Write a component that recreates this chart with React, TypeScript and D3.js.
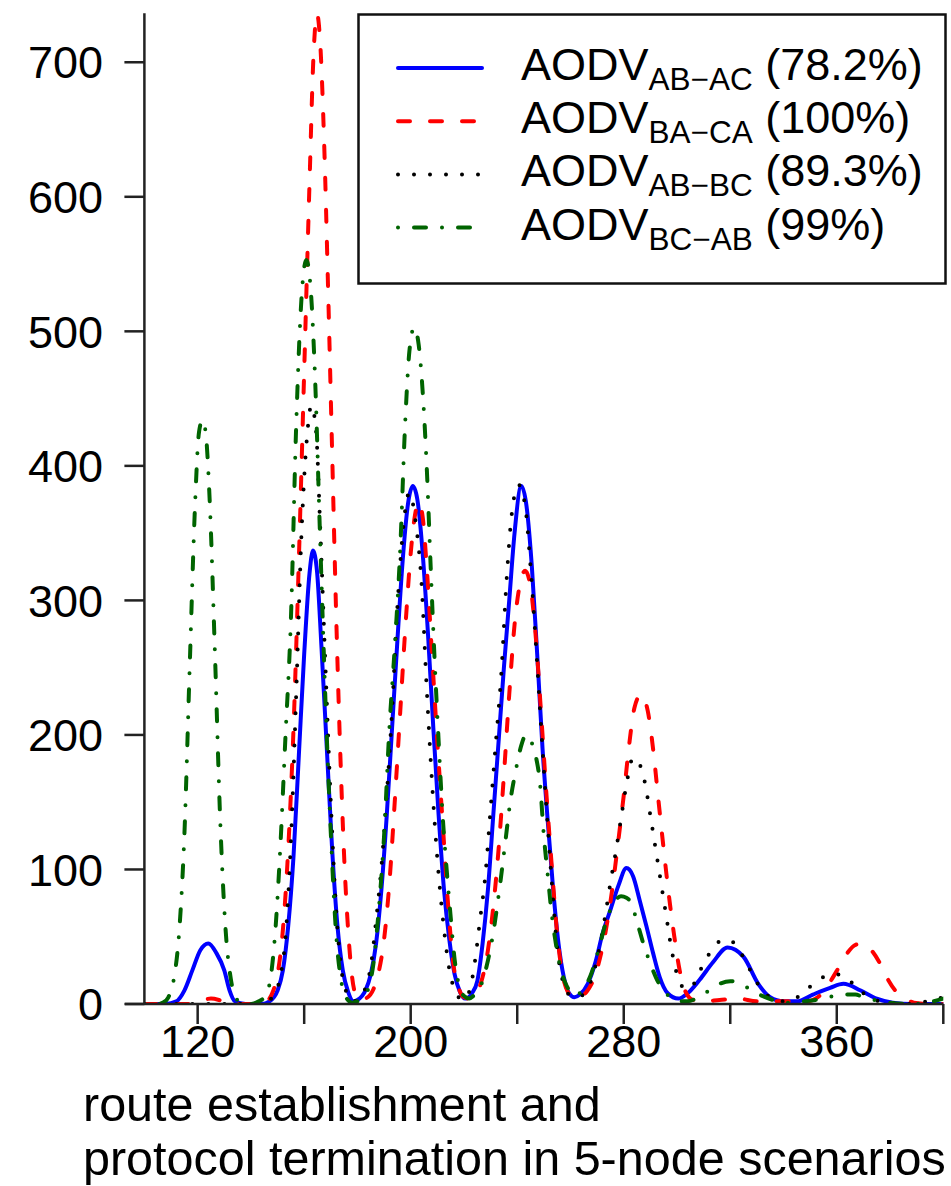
import * as d3 from "d3";

// values: [x, count]
const blueAbAc: [number, number][] = [
  [100, 0], [108, 0], [112, 2], [115, 10], [118, 25], [121, 40], [124, 45], [127, 38], [130, 25], [132, 10], [134, 2], [138, 0],
  [144, 0], [147, 2], [150, 10], [152, 25], [154, 58], [156, 110], [158, 185], [160, 260], [162, 320], [163.3, 337], [164.8, 322],
  [166.5, 265], [168.5, 190], [170.5, 115], [172.5, 58], [174.5, 25], [176.5, 9], [178.5, 2],
  [180, 3], [183, 10], [185, 22], [187, 45], [189, 85], [191, 140], [193, 205], [195, 270], [197, 330], [199, 372], [200.8, 385],
  [202.5, 375], [204.5, 335], [206.5, 275], [208.5, 205], [210.5, 140], [212.5, 85], [214.5, 48], [216.5, 22], [218.5, 9], [220.5, 4],
  [223, 8], [225, 17], [227, 45], [229, 85], [231, 140], [233, 195], [235, 250], [237, 300], [239, 350], [241.5, 385], [243.5, 370],
  [245.5, 325], [247.5, 260], [249.5, 190], [251.5, 135], [253.5, 85], [255.5, 45], [257.5, 20], [259.5, 8], [261.5, 5],
  [263.5, 7], [266.5, 15], [269.5, 32], [272, 52], [275, 70], [278, 88], [281, 101], [283.5, 95], [286, 77], [288.5, 58], [291, 38],
  [293.5, 20], [296.5, 8], [300.5, 4], [304, 8], [308.5, 18], [313.5, 31], [319, 42], [325, 35], [330.5, 15], [335, 5], [340, 2],
  [345, 2], [351, 7], [357.5, 12], [362.5, 15], [369, 10], [375, 4], [381, 1], [388, 0], [400, 0],
];

const redBaCa: [number, number][] = [
  [100, 0], [116, 0], [119, 1], [122, 3], [125, 4], [128, 3], [131, 1], [134, 0], [143, 0],
  [146, 2], [148, 8], [150, 22], [152, 55], [154, 115], [156, 205], [158, 330], [160, 470], [162, 610], [163.5, 705], [164.8, 736],
  [166, 715], [167.5, 640], [169, 530], [170.5, 410], [172, 290], [173.5, 190], [175, 110], [176.5, 55], [178, 20], [179.5, 6],
  [181, 3], [183, 4], [186, 11], [188, 24], [190, 48], [192, 90], [194, 150], [196, 215], [198, 280], [200, 335], [201.5, 362],
  [203, 373], [204.5, 362], [206, 325], [208, 260], [210, 195], [212, 135], [214, 75], [216, 30], [218, 12], [220, 5],
  [222, 4], [225, 9], [227, 20], [229, 40], [231, 72], [233, 115], [235, 170], [237, 230], [239, 282], [241, 312], [243, 322],
  [245, 310], [247, 272], [249, 215], [251, 155], [253, 102], [255, 52], [257, 22], [259, 9], [261, 5],
  [263, 5], [266, 9], [269, 20], [272, 42], [274, 63], [276, 90], [278, 122], [280, 155], [282, 192], [284, 220], [286.5, 230],
  [289, 218], [291, 190], [293, 152], [295, 115], [297, 80], [299, 50], [301, 25], [303, 10], [306, 3], [310, 2],
  [316, 3], [323, 4], [330, 2], [340, 2], [349, 2], [352, 4], [355, 9], [358, 18], [361, 28], [364, 38], [367, 44], [370, 45],
  [373, 40], [376, 31], [379, 19], [382, 10], [385, 5], [389, 1], [395, 0], [400, 0],
];

const blackAbBc: [number, number][] = [
  [100, 0], [140, 0], [145, 1], [147, 3], [149, 8], [151, 20], [153, 50], [155, 120], [157, 230], [159, 350], [161, 420],
  [162.7, 445], [164.5, 425], [166, 355], [168, 250], [170, 150], [172, 70], [174, 25], [176, 8], [178, 2],
  [181, 4], [183, 12], [185, 28], [187, 62], [189, 102], [191, 155], [193, 218], [195, 295], [197, 350], [199.5, 380],
  [202, 356], [204, 315], [206, 235], [208, 165], [210, 108], [212, 65], [214, 32], [216, 13], [218, 5], [220, 3],
  [222.5, 13], [224, 30], [226, 62], [228, 95], [230, 145], [232, 195], [234, 245], [236, 315], [238, 365], [240.5, 386],
  [243, 370], [245, 325], [247, 268], [249, 205], [251, 145], [253, 90], [255, 42], [257, 18], [259, 8], [261, 5],
  [264, 6], [266, 10], [268.5, 22], [271, 43], [273, 65], [275, 90], [277, 113], [279, 138], [281, 163], [283.5, 183],
  [286, 178], [288, 164], [290, 140], [292, 115], [294, 90], [296, 65], [298, 40], [300, 22], [302, 13], [304, 11], [306, 14],
  [309, 26], [312, 37], [315, 45], [318, 48], [321, 46], [324, 38], [327, 27], [330, 16], [333, 8], [336, 4], [340, 2],
  [343, 3], [346, 6], [350, 13], [354, 19], [358, 22], [361, 22], [364, 19], [367, 13], [370, 8], [373, 4], [376, 2],
  [380, 1], [388, 0], [394, 2], [400, 5],
];

const greenBcAb: [number, number][] = [
  [100, 0], [105, 0], [107, 1], [109, 5], [111, 18], [113, 52], [115, 125], [117, 250], [119, 370], [120.5, 425], [121.8, 434],
  [123, 425], [124.5, 375], [126.5, 260], [128.5, 135], [130.5, 55], [132.5, 18], [134.5, 4], [137, 0], [140, 0], [143, 2],
  [145, 5], [147, 15], [149, 50], [151, 115], [153, 200], [155, 285], [157, 430], [159, 525], [160.8, 553], [162.5, 530],
  [164, 470], [166, 345], [168, 225], [170, 127], [172, 52], [174, 16], [176, 4], [178, 1],
  [181.5, 4], [184, 11], [186, 30], [188, 70], [190, 125], [192, 205], [194, 265], [196, 335], [198, 435], [199.5, 485],
  [201.3, 503], [203, 490], [204.5, 455], [206, 400], [207.5, 325], [209, 255], [210.5, 195], [212, 140], [213.5, 100],
  [215, 65], [216.5, 33], [218, 15], [220, 6], [222, 4], [223.5, 6], [225.5, 10], [228.5, 28], [231, 53], [233.5, 88],
  [235.5, 120], [237.5, 152], [239.5, 174], [241.5, 192], [243.3, 200], [245, 196], [247, 184], [248.5, 165], [250, 125],
  [251.5, 95], [253, 66], [254.5, 45], [256, 29], [258, 16], [260, 9], [262, 6], [263.5, 8], [265.5, 13], [267.5, 21],
  [270.5, 40], [273.5, 62], [276.5, 76], [279, 80], [281, 79], [283, 74], [285, 61], [287.5, 44], [290, 30], [292.5, 18],
  [295, 10], [297.5, 5], [300, 2], [304, 2], [308, 5], [312, 10], [316, 15], [320, 17], [324, 15], [328, 10], [332, 6],
  [336, 3], [342, 1], [348, 2], [352, 3], [356, 5], [360, 6], [364, 7], [367, 7], [370, 5], [374, 3], [380, 1], [388, 0],
  [394, 1], [400, 4],
];

const yTicks = [0, 100, 200, 300, 400, 500, 600, 700];
const xTicks = [120, 160, 200, 240, 280, 320, 360, 400];
const xTickLabels = [120, 200, 280, 360];
const xLabelLines = ["route establishment and", "protocol termination in 5-node scenarios"];

const series = [
  { sub: "AB\u2212AC", pct: "(78.2%)", data: blueAbAc, color: "#0000ff", dash: "none" },
  { sub: "BA\u2212CA", pct: "(100%)", data: redBaCa, color: "#ff0000", dash: "12 20" },
  { sub: "AB\u2212BC", pct: "(89.3%)", data: blackAbBc, color: "#000000", dash: "0 16" },
  { sub: "BC\u2212AB", pct: "(99%)", data: greenBcAb, color: "#006400", dash: "0 16 12 16" },
];

const font = "'Liberation Sans', Arial, Helvetica, sans-serif";

export default function App() {
  const width = 951;
  const height = 1186;

  const x = d3.scaleLinear().domain([100, 400]).range([144.4, 943.3]);
  const y = d3.scaleLinear().domain([0, 736.4]).range([1004, 13.3]);

  const line = d3
    .line<[number, number]>()
    .x((d) => x(d[0]))
    .y((d) => y(d[1]))
    .curve(d3.curveMonotoneX);

  const axisColor = "#222";
  const legendX = 358.5;
  const legendY = 14.5;
  const rowStep = 53.2;

  return (
    <svg
      width={width}
      height={height}
      style={{ position: "absolute", left: 0, top: 0, background: "#fff" }}
      fontFamily={font}
    >
      <defs>
        <clipPath id="plotClip">
          <rect x={x(100)} y={y(736.4)} width={x(400) - x(100)} height={y(0) - y(736.4)} />
        </clipPath>
      </defs>

      {/* curves */}
      <g clipPath="url(#plotClip)">
        {series.map((s, i) => (
          <path
            key={i}
            d={line(s.data) || ""}
            fill="none"
            stroke={s.color}
            strokeWidth={4}
            strokeDasharray={s.dash}
            strokeLinecap="round"
            strokeLinejoin="round"
          />
        ))}
      </g>

      {/* y axis */}
      <line x1={x(100)} x2={x(100)} y1={y(0)} y2={y(736.4)} stroke={axisColor} strokeWidth={2.5} />
      {yTicks.map((t) => (
        <g key={t}>
          <line x1={x(100) - 20} x2={x(100)} y1={y(t)} y2={y(t)} stroke={axisColor} strokeWidth={2.5} />
          <text x={103} y={y(t)} dy="0.36em" textAnchor="end" fontSize={45}>
            {t}
          </text>
        </g>
      ))}

      {/* x axis */}
      <line x1={125} x2={x(400)} y1={y(0)} y2={y(0)} stroke={axisColor} strokeWidth={2.5} />
      {xTicks.map((t) => (
        <line key={t} x1={x(t)} x2={x(t)} y1={y(0)} y2={y(0) + 20} stroke={axisColor} strokeWidth={2.5} />
      ))}
      {xTickLabels.map((t) => (
        <text key={t} x={x(t)} y={1057} textAnchor="middle" fontSize={45}>
          {t}
        </text>
      ))}
      {xLabelLines.map((l, i) => (
        <text key={i} x={83} y={1121 + i * 54} fontSize={48.5}>
          {l}
        </text>
      ))}

      {/* legend */}
      <rect x={legendX} y={legendY} width={587} height={269} fill="#fff" stroke="#111" strokeWidth={2.5} />
      {series.map((s, i) => {
        const ly = 68 + i * rowStep;
        return (
          <g key={i}>
            <line
              x1={398}
              x2={482}
              y1={ly}
              y2={ly}
              stroke={s.color}
              strokeWidth={4}
              strokeDasharray={s.dash}
              strokeLinecap="round"
            />
            <text x={521} y={ly + 12} fontSize={45}>
              AODV
              <tspan fontSize={31.5} dy={10}>
                {s.sub}
              </tspan>
              <tspan dy={-10}> {s.pct}</tspan>
            </text>
          </g>
        );
      })}
    </svg>
  );
}
